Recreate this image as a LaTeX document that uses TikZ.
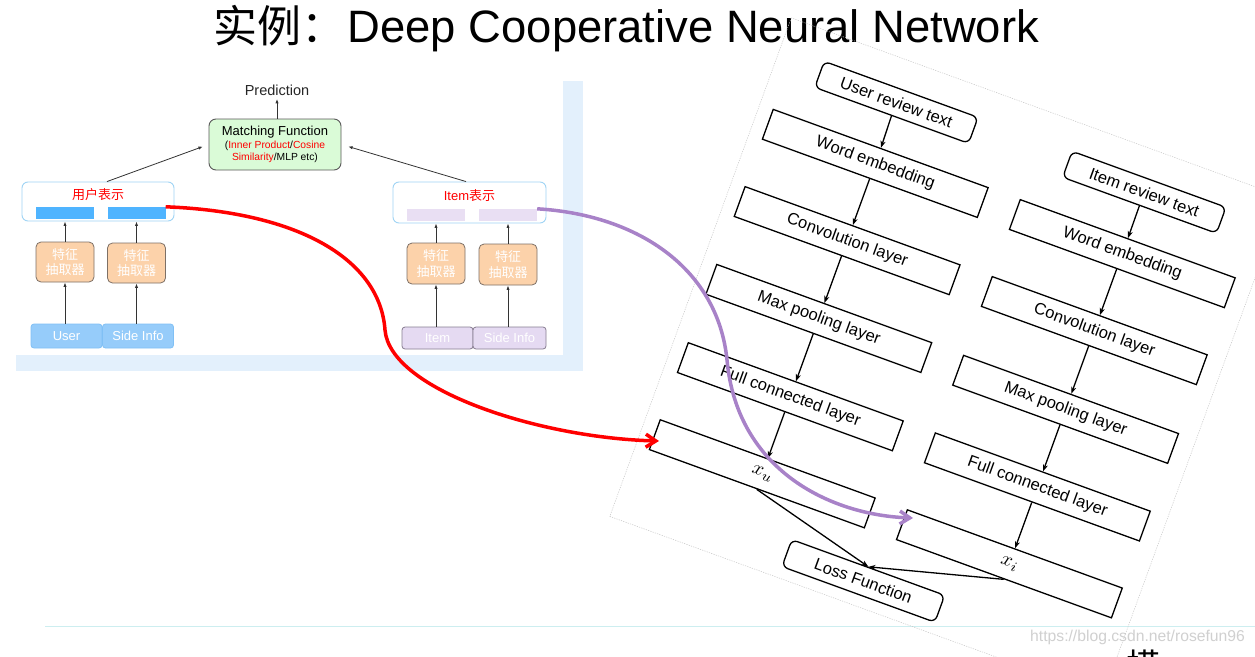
\documentclass[tikz,border=0pt]{standalone}
\usepackage{fontspec}
\setmainfont{Liberation Sans}
\newfontfamily\cjk{Noto Sans CJK SC}
\usetikzlibrary{arrows.meta}
\newcommand{\setsz}[2]{\fontsize{#1}{#2}\selectfont}
\newcommand{\bigmath}[1]{\scalebox{2.0}{\normalsize$#1$}}
\definecolor{shadowblue}{RGB}{227,240,252}
\definecolor{barblue}{RGB}{79,180,255}
\definecolor{inblue}{RGB}{150,204,250}
\definecolor{inblueb}{RGB}{128,192,245}
\definecolor{peach}{RGB}{252,210,170}
\definecolor{peachb}{RGB}{125,112,102}
\definecolor{lavbar}{RGB}{233,223,243}
\definecolor{lavbox}{RGB}{229,218,242}
\definecolor{lavb}{RGB}{135,125,145}
\definecolor{mgreen}{RGB}{218,251,215}
\definecolor{repb}{RGB}{160,212,245}
\definecolor{purp}{RGB}{168,130,200}
\definecolor{sepcyan}{RGB}{205,238,240}
\definecolor{wmgray}{RGB}{208,208,208}
\begin{document}
\begin{tikzpicture}[x=1pt,y=-1pt,
  repbox/.style={draw=repb, fill=white, rounded corners=6pt, line width=0.9pt, minimum width=152pt, minimum height=39pt, inner sep=0pt},
  ubar/.style={fill=barblue, minimum width=58pt, minimum height=12pt, inner sep=0pt},
  ibar/.style={fill=lavbar, minimum width=58pt, minimum height=12pt, inner sep=0pt},
  featbox/.style={draw=peachb, fill=peach, rounded corners=5pt, line width=0.8pt, minimum width=58pt, minimum height=40pt, inner sep=0pt, text=white, align=center, font=\cjk\setsz{13}{15.7}},
  ubox/.style={draw=inblueb, fill=inblue, rounded corners=3pt, line width=0.8pt, minimum width=71pt, minimum height=24pt, inner sep=0pt, text=white, font=\setsz{13}{13}},
  ibox/.style={ubox, draw=lavb, fill=lavbox, minimum height=22pt},
  mbox/.style={draw=black!65, fill=mgreen, rounded corners=7pt, line width=0.9pt, minimum width=132pt, minimum height=51pt, inner sep=0pt, align=center, font=\setsz{10.3}{12}},
  larrow/.style={-{Latex[length=4.5pt,width=3.2pt]}, line width=0.8pt, draw=black!80},
  reptext/.style={text=red, inner sep=0pt, font=\setsz{13}{13}},
  nnbox/.style={draw=black, line width=1.3pt, minimum width=228.7pt, minimum height=31.7pt, inner sep=0pt, font=\setsz{16.5}{16.5}},
  rtext/.style={nnbox, rounded corners=6pt, minimum width=163.7pt, minimum height=27.7pt},
  narrow/.style={-{Stealth[length=7pt,width=5pt,inset=2pt]}, line width=1.3pt},
  bigcurve/.style={line width=3.5pt, -{Straight Barb[length=10pt,width=13pt]}},
  pageline/.style={draw=black!22, line width=0.5pt, dash pattern=on 1.2pt off 1.2pt}
]
\useasboundingbox (0,0) rectangle (1255,656);
\fill[white] (0,0) rectangle (1255,656);

% ---------- title ----------
\node[anchor=base west, inner sep=0pt] (ttlc) at (213,42) {\cjk\setsz{44}{44}实例：};
\node[anchor=base west, inner sep=0pt] (ttl) at (347.5,42) {\setsz{45.4}{45.4}Deep Cooperative Neural Network};

% ---------- left panel ----------
\fill[shadowblue] (563,81) rectangle (583,371);
\fill[shadowblue] (16,355) rectangle (563,371);

\node[font=\setsz{14.5}{15}, text=black!85] (pred) at (277,90) {Prediction};
\node[mbox] (match) at (275,144.5) {{\setsz{13}{13}Matching Function}\\[1.2pt]
  (\textcolor{red}{Inner Product}/\textcolor{red}{Cosine}\\[-0.3pt]
  \textcolor{red}{Similarity}/MLP etc)};

\node[repbox] (urep) at (98,201.5) {};
\node[reptext] (utxt) at (98,194.3) {\cjk 用户表示};
\node[ubar] (ub1) at (65,213) {};
\node[ubar] (ub2) at (136.5,213) {};
\node[featbox] (uf1) at (65,262) {特征\\抽取器};
\node[featbox] (uf2) at (136.5,263) {特征\\抽取器};
\node[ubox] (uin1) at (66.5,336) {User};
\node[ubox] (uin2) at (138,336) {Side Info};

\node[repbox, minimum width=153pt, minimum height=41pt] (irep) at (469.5,202.5) {};
\node[reptext] (itxt) at (469.5,196) {Item{\cjk 表示}};
\node[ibar] (ib1) at (436,215) {};
\node[ibar] (ib2) at (508,215) {};
\node[featbox, minimum height=41pt] (if1) at (436,263.5) {特征\\抽取器};
\node[featbox, minimum height=41pt] (if2) at (508,264.5) {特征\\抽取器};
\node[ibox] (iin1) at (437.5,338) {Item};
\node[ibox, minimum width=73pt] (iin2) at (509.5,338) {Side Info};

\draw[larrow] (pred.south |- match.north) -- (pred.south);
\draw[larrow, shorten >=6pt] ([xshift=9pt]urep.north) -- (match.west);
\draw[larrow, shorten >=7pt] ([xshift=-3.5pt]irep.north) -- (match.east);
\foreach \f/\i/\r in {uf1/uin1/urep, uf2/uin2/urep, if1/iin1/irep, if2/iin2/irep}{
  \draw[larrow] (\f.south |- \i.north) -- (\f.south);
  \draw[larrow] (\f.north) -- (\f.north |- \r.south);
}

% ---------- separator and watermark ----------
\draw[sepcyan, line width=1pt] (45,626) -- (1255,626);
\node[text=wmgray, anchor=west, inner sep=0pt, font=\setsz{15.7}{16}] (wm) at (1030,637) {https://blog.csdn.net/rosefun96};
\node[anchor=north, inner sep=0pt, font=\cjk\setsz{34}{34}] (cut) at (1143,650) {模};

% ---------- right panel (rotated figure) ----------
\begin{scope}[shift={(875.25,163.4)}, rotate=-20, transform shape]
  \draw[pageline] (-128.7,-108) rectangle (396,422.5);
  \node[rtext] (urt) at (-1,-64.6) {User review text};
  \node[nnbox] (uwe) at (0,0) {Word embedding};
  \node[nnbox] (ucv) at (0,82.2) {Convolution layer};
  \node[nnbox] (ump) at (0,165) {Max pooling layer};
  \node[nnbox] (ufc) at (0,248.3) {Full connected layer};
  \node[nnbox] (xu) at (0,330.3) {\bigmath{x_u}};
  \node[rtext] (irt) at (262.7,-64.9) {Item review text};
  \node[nnbox] (iwe) at (263,0.3) {Word embedding};
  \node[nnbox] (icv) at (263,82.2) {Convolution layer};
  \node[nnbox] (imp) at (263,166) {Max pooling layer};
  \node[nnbox] (ifc) at (263,248.6) {Full connected layer};
  \node[nnbox] (xi) at (263,330.4) {\bigmath{x_i}};
  \node[rtext, minimum width=162.7pt, minimum height=28.7pt] (loss) at (131.6,396.4) {Loss Function};
  \foreach \a/\b in {urt/uwe, uwe/ucv, ucv/ump, ump/ufc, ufc/xu, irt/iwe, iwe/icv, icv/imp, imp/ifc, ifc/xi}{
    \draw[narrow] (\a.south) -- (\b.north);
  }
  \draw[narrow] (xu.south) -- (loss.north);
  \draw[narrow] (xi.south) -- (loss.north);
\end{scope}

% ---------- connecting curves ----------
\coordinate (redend) at (659,441);
\coordinate (purend) at (913,518);
\draw[bigcurve, red] (ub2.north east) .. controls (300,212) and (380,260) .. (385,330)
   .. controls (390,390) and (540,438) .. (redend);
\draw[bigcurve, purp] (ib2.north east) .. controls (640,215) and (718,270) .. (727,360)
   .. controls (737,470) and (830,515) .. (purend);
\end{tikzpicture}
\end{document}
